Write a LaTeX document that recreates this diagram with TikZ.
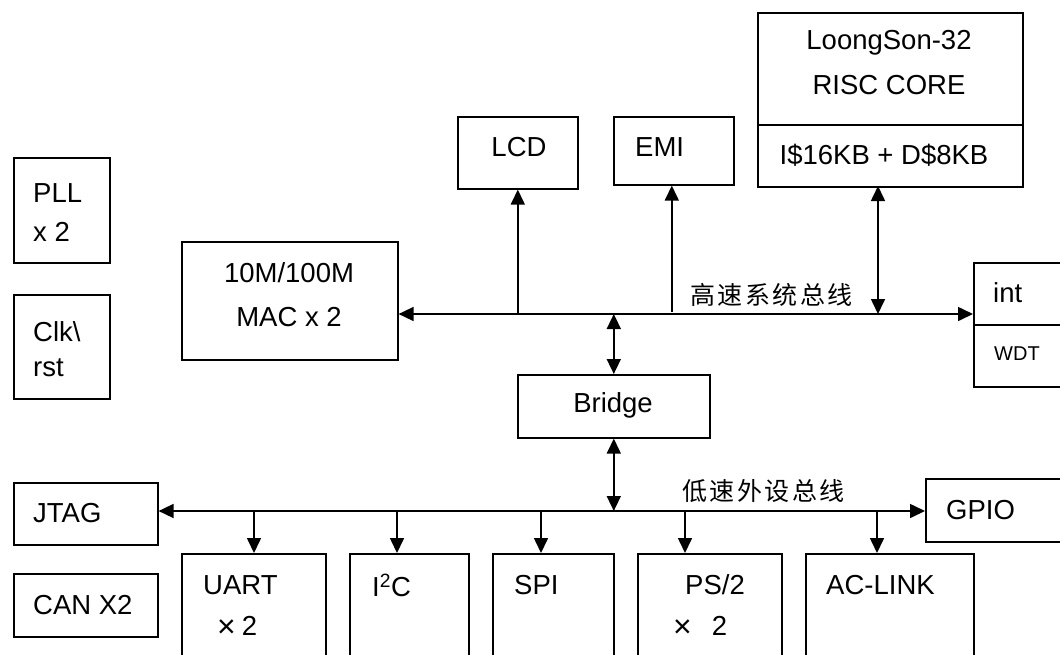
\documentclass[tikz,border=0pt]{standalone}
\usepackage{fontspec}
\setmainfont{Liberation Sans}
\newfontfamily\cjk[LetterSpace=10]{Noto Sans CJK SC}
\usetikzlibrary{arrows.meta}
\newcommand{\bigtimes}{\raisebox{-2pt}{\fontsize{32}{32}\selectfont ×}}
\begin{document}
\begin{tikzpicture}[x=1pt,y=-1pt,
  >={Triangle[length=15pt,width=14pt]},
  box/.style={draw,line width=1.6pt,rectangle,inner sep=0pt,anchor=north west},
  conn/.style={line width=1.6pt},
  txt/.style={inner sep=0pt,font=\fontsize{27.5}{33}\selectfont},
  ltxt/.style={txt,anchor=west},
  smalltxt/.style={inner sep=0pt,anchor=west,font=\fontsize{20}{24}\selectfont},
  bustxt/.style={inner sep=0pt,anchor=west,font=\cjk\fontsize{25}{30}\selectfont}]
\useasboundingbox (0,0) rectangle (1060,654);
\clip (0,0) rectangle (1060,654);

% ---- blocks ----
\node[box,minimum width=96pt,minimum height=105pt] (pll) at (13,157) {};
\node[box,minimum width=96pt,minimum height=104pt] (clk) at (13,294) {};
\node[box,minimum width=216pt,minimum height=118pt] (mac) at (181,241) {};
\node[box,minimum width=120pt,minimum height=72pt] (lcd) at (457,116) {};
\node[box,minimum width=120pt,minimum height=68pt] (emi) at (613,116) {};
\node[box,minimum width=265pt,minimum height=112pt] (core) at (757,12) {};
\node[box,minimum width=265pt,minimum height=62pt] (cache) at (757,124) {};
\node[box,minimum width=130pt,minimum height=62pt] (int) at (973,262) {};
\node[box,minimum width=130pt,minimum height=62pt] (wdt) at (973,324) {};
\node[box,minimum width=192pt,minimum height=63pt] (bridge) at (517,374) {};
\node[box,minimum width=144pt,minimum height=62pt] (jtag) at (13,482) {};
\node[box,minimum width=144pt,minimum height=63pt] (can) at (13,573) {};
\node[box,minimum width=160pt,minimum height=63pt] (gpio) at (925,478) {};
\node[box,minimum width=144pt,minimum height=140pt] (uart) at (181,553) {};
\node[box,minimum width=119pt,minimum height=140pt] (i2c) at (349,553) {};
\node[box,minimum width=121pt,minimum height=140pt] (spi) at (492,553) {};
\node[box,minimum width=144pt,minimum height=140pt] (ps2) at (637,553) {};
\node[box,minimum width=168pt,minimum height=140pt] (ac) at (805,553) {};

% ---- labels ----
\node[ltxt] (pllA) at (33,193) {PLL};
\node[ltxt] (pllB) at (33,232) {x 2};
\node[ltxt] (clkA) at (33,332) {Clk\textbackslash};
\node[ltxt] (clkB) at (33,368) {rst};
\node[txt] (macA) at (289,273) {10M/100M};
\node[txt] (macB) at (289,317) {MAC x 2};
\node[txt] (lcdT) at (519,147) {LCD};
\node[ltxt] (emiT) at (635,147) {EMI};
\node[txt] (coreA) at (889,43) {LoongSon-32};
\node[txt] (coreB) at (889,85) {RISC CORE};
\node[txt] (cacheT) at (884,155) {I\$16KB + D\$8KB};
\node[ltxt] (intT) at (993,293) {int};
\node[smalltxt] (wdtT) at (994,354) {WDT};
\node[txt] (bridgeT) at (613,405) {Bridge};
\node[ltxt] (jtagT) at (33,513) {JTAG};
\node[ltxt] (canT) at (33,605) {CAN X2};
\node[ltxt] (gpioT) at (946,510) {GPIO};
\node[ltxt] (uartA) at (203,585) {UART};
\node[ltxt] (uartB) at (217,627) {\bigtimes\hspace{6pt}2};
\node[ltxt] (i2cT) at (372,585) {I\textsuperscript{2}C};
\node[ltxt] (spiT) at (514,585) {SPI};
\node[ltxt] (ps2A) at (685,585) {PS/2};
\node[ltxt] (ps2B) at (673,627) {\bigtimes\hspace{20pt}2};
\node[ltxt] (acT) at (826,585) {AC-LINK};
\node[bustxt] (hsT) at (690,295) {高速系统总线};
\node[bustxt] (lsT) at (682,491) {低速外设总线};

% ---- bus levels and tap points ----
\coordinate (hbus) at (0,314);
\coordinate (lbus) at (0,511);
\coordinate (cpu) at (878,186);
\coordinate (uartIn) at ([xshift=73pt]uart.north west);
\coordinate (i2cIn) at ([xshift=48pt]i2c.north west);
\coordinate (spiIn) at ([xshift=49pt]spi.north west);
\coordinate (ps2In) at ([xshift=48pt]ps2.north west);
\coordinate (acIn) at ([xshift=72pt]ac.north west);
\coordinate (emiIn) at ([xshift=-2pt]emi.south);

% high-speed system bus
\draw[conn,<->] (mac.east |- hbus) -- (int.west |- hbus);
\draw[conn,->] (lcd.south |- hbus) -- (lcd.south);
\draw[conn,->] ([yshift=2pt]emiIn |- hbus) -- (emiIn);
\draw[conn,<->] (cpu) -- (cpu |- hbus);
\draw[conn,<->] (bridge.north |- hbus) -- (bridge.north);

% low-speed peripheral bus
\draw[conn,<->] (bridge.south) -- (bridge.south |- lbus);
\draw[conn,<->] (jtag.east |- lbus) -- (gpio.west |- lbus);
\draw[conn,->] (uartIn |- lbus) -- (uartIn);
\draw[conn,->] (i2cIn |- lbus) -- (i2cIn);
\draw[conn,->] (spiIn |- lbus) -- (spiIn);
\draw[conn,->] (ps2In |- lbus) -- (ps2In);
\draw[conn,->] (acIn |- lbus) -- (acIn);
\end{tikzpicture}
\end{document}
